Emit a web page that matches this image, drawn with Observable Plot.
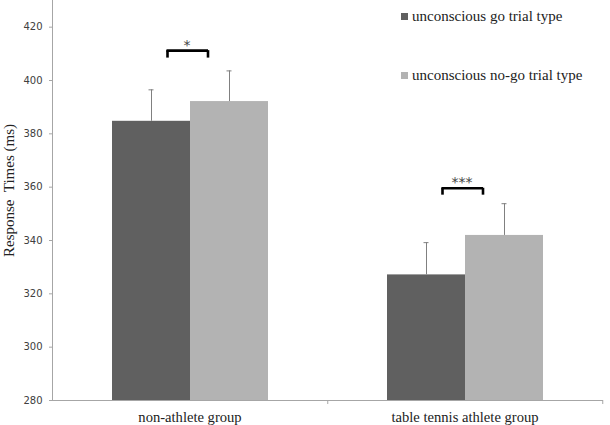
<!DOCTYPE html>
<html>
<head>
<meta charset="utf-8">
<script src="https://cdn.jsdelivr.net/npm/d3@7"></script>
<script src="https://cdn.jsdelivr.net/npm/@observablehq/plot@0.6"></script>
<style>
  html, body { margin: 0; padding: 0; background: #fff; }
  #wrap { position: relative; width: 610px; height: 425px; overflow: hidden; }
  #legend { position: absolute; left: 401px; top: 7px; font-family: "Liberation Serif", serif; font-size: 15px; color: #222; }
  .item { display: flex; align-items: center; height: 18px; }
  .item + .item { margin-top: 41px; }
  .sw { width: 7px; height: 7px; margin-right: 4px; }
</style>
</head>
<body>
<div id="wrap"><div id="legend"></div></div>
<script>
const groups = ["non-athlete group", "table tennis athlete group"];
const trialTypes = ["unconscious go trial type", "unconscious no-go trial type"];
const goMeans = [384.7, 327.1];
const nogoMeans = [392.1, 341.9];
const goErrors = [11.8, 12.1];
const nogoErrors = [11.5, 11.9];
const sigLabels = ["*", "***"];
const sigTop = [411.2, 359.6];
const sigLeg = [408.4, 357.0];
const yTicks = [280, 300, 320, 340, 360, 380, 400, 420];
const yLabel = "Response  Times (ms)";
const colors = ["#606060", "#b3b3b3"];

const rows = groups.flatMap((g, i) => [
  {group: g, type: trialTypes[0], mean: goMeans[i], err: goErrors[i]},
  {group: g, type: trialTypes[1], mean: nogoMeans[i], err: nogoErrors[i]}
]);
const sig = groups.map((g, i) => ({group: g, label: sigLabels[i], top: sigTop[i], leg: sigLeg[i]}));

const chart = Plot.plot({
  width: 610,
  height: 425,
  marginLeft: 51,
  marginRight: 8,
  marginTop: 0,
  marginBottom: 25,
  style: {background: "#fff"},
  fx: {domain: groups, paddingInner: 0, paddingOuter: 0},
  x: {domain: trialTypes, paddingInner: 0, paddingOuter: 0.755, axis: null},
  y: {domain: [280, 430]},
  color: {domain: trialTypes, range: colors},
  marks: [
    Plot.barY(rows, {fx: "group", x: "type", y1: 280, y2: "mean", fill: "type"}),
    Plot.ruleX(rows, {fx: "group", x: "type", y1: "mean", y2: d => d.mean + d.err, stroke: "#808080", strokeWidth: 1}),
    Plot.tickY(rows, {fx: "group", x: "type", y: d => d.mean + d.err, stroke: "#808080", strokeWidth: 1, insetLeft: 36.5, insetRight: 36.5}),
    // significance brackets
    Plot.ruleY(sig, {fx: "group", y: "top", stroke: "#000", strokeWidth: 2.6, insetLeft: 114.5, insetRight: 119}),
    Plot.ruleX(sig, {fx: "group", x: () => trialTypes[0], y1: "leg", y2: "top", dx: 16, stroke: "#000", strokeWidth: 2.6}),
    Plot.ruleX(sig, {fx: "group", x: () => trialTypes[1], y1: "leg", y2: "top", dx: -21.5, stroke: "#000", strokeWidth: 2.6}),
    Plot.text(sig, {fx: "group", y: "top", text: "label", frameAnchor: "middle", dx: -3, dy: -1, lineAnchor: "bottom", fontSize: 14, fontFamily: "DejaVu Sans", fill: "#444"}),
    // axes
    Plot.frame({anchor: "left", facetAnchor: "left", stroke: "#a6a6a6"}),
    Plot.frame({anchor: "bottom", stroke: "#a6a6a6"}),
    Plot.axisY({ticks: yTicks, tickSize: 3, tickPadding: 7, fontSize: 10, fontFamily: "DejaVu Sans", fill: "#404040", stroke: "#a6a6a6", label: null}),
    Plot.axisFx({anchor: "bottom", tickSize: 0, tickPadding: 11, fontSize: 14.6, fontFamily: "Liberation Serif", fill: "#222", label: null}),
    Plot.axisFx({anchor: "bottom", tickSize: 4, tickFormat: () => "", dx: 137.75, stroke: "#a6a6a6", label: null}),
    Plot.text([{group: groups[0]}], {fx: "group", text: () => yLabel, frameAnchor: "left", textAnchor: "middle", rotate: -90, dx: -43, dy: -10, fontSize: 15, fontFamily: "Liberation Serif", fill: "#222"})
  ]
});

document.getElementById("wrap").prepend(chart);

const legend = d3.select("#legend");
trialTypes.forEach((t, i) => {
  const item = legend.append("div").attr("class", "item");
  item.append("div").attr("class", "sw").style("background", colors[i]);
  item.append("span").text(t);
});
</script>
</body>
</html>
